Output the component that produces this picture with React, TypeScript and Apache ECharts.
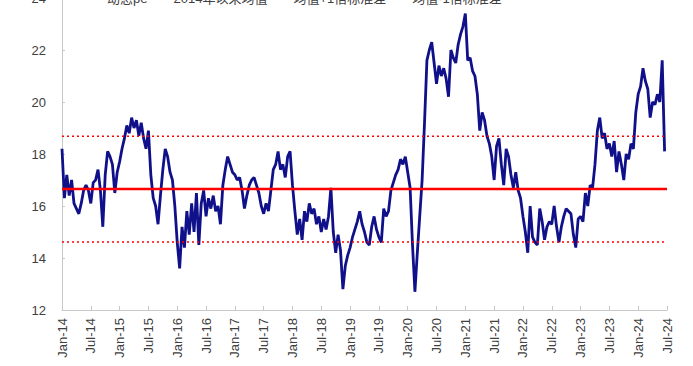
import React, { useEffect, useRef } from "react";
import * as echarts from "echarts";

// Tick labels every 6 months (Jan-14 .. Jul-24)
const tickLabels = [
  "Jan-14", "Jul-14", "Jan-15", "Jul-15", "Jan-16", "Jul-16", "Jan-17", "Jul-17",
  "Jan-18", "Jul-18", "Jan-19", "Jul-19", "Jan-20", "Jul-20", "Jan-21", "Jul-21",
  "Jan-22", "Jul-22", "Jan-23", "Jul-23", "Jan-24", "Jul-24",
];

const seriesNames = ["动态pe", "2014年以来均值", "均值+1倍标准差", "均值-1倍标准差"];

// Dynamic PE, sampled every half month from Jan-2014
const pe2014 = [18.2, 16.3, 17.2, 16.4, 17.0, 16.1, 15.9, 15.7, 16.1, 16.6, 16.8, 16.6, 16.1, 16.9, 17.0, 17.4, 16.6, 15.2, 17.2, 18.1, 17.9, 17.6, 16.5, 17.3];
const pe2015 = [17.7, 18.2, 18.6, 19.1, 18.8, 19.4, 19.0, 19.3, 18.7, 19.2, 18.6, 18.2, 18.9, 17.2, 16.3, 16.0, 15.3, 16.4, 17.4, 18.2, 17.9, 17.3, 17.0, 16.0];
const pe2016 = [14.6, 13.6, 15.2, 14.4, 15.8, 14.9, 16.1, 15.0, 16.5, 14.5, 16.1, 16.6, 15.6, 16.3, 15.9, 16.4, 15.8, 16.0, 15.3, 16.8, 17.4, 17.9, 17.6, 17.3];
const pe2017 = [17.2, 17.0, 17.1, 16.6, 15.9, 16.4, 16.8, 17.0, 17.1, 16.8, 16.5, 16.0, 15.7, 16.1, 15.8, 16.6, 17.4, 17.6, 18.1, 17.4, 17.6, 17.1, 17.9, 18.1];
const pe2018 = [16.8, 15.8, 14.9, 15.5, 14.7, 15.8, 15.4, 16.1, 15.7, 15.9, 15.3, 15.6, 15.0, 15.5, 15.1, 15.6, 16.7, 15.0, 14.2, 14.9, 14.3, 12.8, 13.7, 14.1];
const pe2019 = [14.4, 14.8, 15.1, 15.4, 15.8, 15.3, 15.0, 14.6, 14.5, 15.2, 15.6, 15.1, 14.8, 14.6, 15.9, 15.6, 15.8, 16.6, 16.9, 17.2, 17.4, 17.8, 17.6, 17.9];
const pe2020 = [17.3, 16.7, 14.5, 12.7, 14.2, 15.6, 17.0, 19.2, 21.6, 22.0, 22.3, 21.5, 20.7, 21.4, 21.0, 21.3, 20.9, 20.2, 22.0, 21.7, 21.5, 22.2, 22.6, 22.9];
const pe2021 = [23.4, 21.6, 21.7, 21.2, 21.0, 20.3, 18.9, 19.6, 19.3, 18.7, 18.4, 17.9, 17.0, 18.3, 18.6, 17.6, 16.8, 18.2, 17.9, 17.2, 16.7, 17.3, 16.6, 16.3];
const pe2022 = [15.6, 15.0, 14.2, 16.0, 14.8, 14.6, 14.5, 15.9, 15.4, 14.7, 15.2, 15.4, 15.3, 16.0, 15.2, 14.6, 15.2, 15.6, 15.9, 15.8, 15.7, 14.9, 14.4, 15.5];
const pe2023 = [15.6, 15.4, 16.5, 16.0, 16.8, 16.7, 17.6, 18.9, 19.4, 18.6, 18.8, 18.2, 18.4, 17.9, 18.5, 17.3, 18.1, 17.6, 17.0, 18.0, 17.8, 18.4, 18.2, 19.6];
const pe2024 = [20.3, 20.6, 21.3, 20.8, 20.5, 19.4, 20.0, 19.9, 20.3, 20.0, 21.6, 18.1];

const peValues = [
  ...pe2014, ...pe2015, ...pe2016, ...pe2017, ...pe2018, ...pe2019,
  ...pe2020, ...pe2021, ...pe2022, ...pe2023, ...pe2024,
];

const meanValue = 16.65;
const upperValue = 18.68;
const lowerValue = 14.62;

const FONT = '"Liberation Sans", Arial, "Noto Sans CJK SC", sans-serif';

export default function App() {
  const ref = useRef<HTMLDivElement>(null);

  useEffect(() => {
    if (!ref.current) return;
    const chart = echarts.init(ref.current, undefined, { renderer: "svg" });
    const monthsTotal = (tickLabels.length - 1) * 6;
    const peData = peValues.map((v, i) => [i / 2, v]);
    const flat = (v: number) => [[0, v], [monthsTotal, v]];

    chart.setOption({
      animation: false,
      backgroundColor: "#ffffff",
      textStyle: { fontFamily: FONT },
      legend: {
        top: 22,
        left: 87,
        padding: 0,
        icon: "rect",
        itemWidth: 15,
        itemHeight: 2.5,
        itemGap: 6,
        textStyle: { fontSize: 13, color: "#404040", fontFamily: FONT },
        data: seriesNames,
      },
      grid: { left: 62, right: 26, top: 28, bottom: 56 },
      xAxis: {
        type: "value",
        min: 0,
        max: monthsTotal,
        interval: 6,
        axisLine: { show: true, lineStyle: { color: "#c8c8c8", width: 1 } },
        axisTick: { show: true, inside: true, length: 4, lineStyle: { color: "#c8c8c8" } },
        splitLine: { show: false },
        axisLabel: {
          rotate: 90,
          margin: 8,
          fontSize: 13,
          color: "#404040",
          fontFamily: FONT,
          formatter: (v: number) => tickLabels[Math.round(v / 6)] ?? "",
        },
      },
      yAxis: {
        type: "value",
        min: 12,
        max: 24,
        interval: 2,
        axisLine: { show: true, lineStyle: { color: "#c8c8c8", width: 1 } },
        axisTick: { show: true, inside: true, length: 3, lineStyle: { color: "#c8c8c8" } },
        splitLine: { show: false },
        axisLabel: { fontSize: 13, color: "#404040", margin: 16, fontFamily: FONT },
      },
      series: [
        {
          name: seriesNames[0],
          type: "line",
          data: peData,
          showSymbol: false,
          symbol: "none",
          lineStyle: { color: "#10108a", width: 2.8 },
          itemStyle: { color: "#10108a" },
          z: 2,
        },
        {
          name: seriesNames[1],
          type: "line",
          data: flat(meanValue),
          showSymbol: false,
          symbol: "none",
          lineStyle: { color: "#ff0000", width: 2.5 },
          itemStyle: { color: "#ff0000" },
          z: 3,
        },
        {
          name: seriesNames[2],
          type: "line",
          data: flat(upperValue),
          showSymbol: false,
          symbol: "none",
          lineStyle: { color: "#ff0000", width: 1.5, type: [2, 3] },
          itemStyle: { color: "#ff0000" },
          z: 3,
        },
        {
          name: seriesNames[3],
          type: "line",
          data: flat(lowerValue),
          showSymbol: false,
          symbol: "none",
          lineStyle: { color: "#ff0000", width: 1.5, type: [2, 3] },
          itemStyle: { color: "#ff0000" },
          z: 3,
        },
      ],
    });

    return () => chart.dispose();
  }, []);

  return (
    <div
      ref={ref}
      style={{ position: "absolute", left: 0, top: -30, width: 693, height: 396 }}
    />
  );
}
